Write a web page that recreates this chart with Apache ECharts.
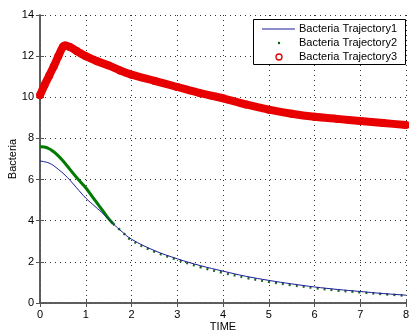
<!DOCTYPE html>
<html><head><meta charset="utf-8">
<script src="https://cdn.jsdelivr.net/npm/echarts@6/dist/echarts.min.js"></script>
<style>html,body{margin:0;padding:0;background:#fff}#c{width:409px;height:330px}</style>
</head><body><div id="c"></div>
<script>
const xTicks = [0,1,2,3,4,5,6,7,8];
const yTicks = [0,2,4,6,8,10,12,14];
const names = ['Bacteria Trajectory1','Bacteria Trajectory2','Bacteria Trajectory3'];
const tBlue = [0,0.2,0.4,0.6,0.8,1.0,1.2,1.4,1.6,1.8,2.0,2.5,3,3.5,4,4.5,5,5.5,6,6.5,7,7.5,8];
const vBlue = [6.9,6.8,6.5,6.1,5.6,5.1,4.7,4.3,3.85,3.45,3.1,2.55,2.15,1.82,1.55,1.3,1.1,0.93,0.78,0.66,0.56,0.46,0.38];
const tGreenA = [0,0.1,0.2,0.3,0.4,0.5,0.6,0.7,0.8,0.9,1.0,1.1,1.2,1.3,1.4,1.5,1.6];
const vGreenA = [7.6,7.58,7.5,7.35,7.15,6.92,6.65,6.37,6.1,5.85,5.6,5.3,5.0,4.7,4.4,4.1,3.85];
const tGreenB = [1.6,1.8,2.0,2.5,3,3.5,4,4.5,5,5.5,6,6.5,7,7.5,8];
const vGreenB = [3.85,3.45,3.05,2.5,2.1,1.75,1.47,1.23,1.03,0.87,0.73,0.61,0.52,0.43,0.36];
const tRed = [0,0.1,0.2,0.3,0.4,0.5,0.55,0.65,0.8,1.0,1.25,1.5,1.75,2.0,2.5,3.0,3.5,4.0,4.5,5.0,5.5,6.0,6.5,7.0,7.5,8.0];
const vRed = [10.1,10.6,11.05,11.5,12.0,12.45,12.52,12.45,12.25,12.0,11.75,11.55,11.3,11.1,10.8,10.5,10.2,9.95,9.65,9.4,9.2,9.05,8.95,8.85,8.75,8.65];

const zip = (a,b)=>a.map((x,i)=>[x,b[i]]);
const FONT = 'Liberation Sans';
const txt = {fontFamily: FONT, fontSize: 11, color: '#000'};
const axLine = {show:true, lineStyle:{color:'#555', width:1.5}};
const split = {show:true, lineStyle:{color:'#333', type:[1,4], width:1}};
const tick = {show:true, inside:true, length:4, lineStyle:{color:'#555'}};

const legendText = (i, y) => ({type:'text', left:299, top:y-6, z:60,
  style:{text:names[i], fill:'#000', font:'11px "Liberation Sans"'}});

const chart = echarts.init(document.getElementById('c'), null, {renderer:'canvas'});
chart.setOption({
  animation:false,
  backgroundColor:'#fff',
  textStyle:{fontFamily:FONT},
  grid:{left:40, right:3, top:15, bottom:27, containLabel:false, outerBoundsMode:'none'},
  xAxis:[
    {type:'value', min:0, max:8, interval:1, position:'bottom',
     name:'TIME', nameLocation:'middle', nameGap:18, nameMoveOverlap:false, nameTextStyle:txt,
     axisLine:axLine, axisTick:tick,
     axisLabel:Object.assign({margin:6}, txt, {formatter:v=>xTicks.includes(v)?String(v):''}), splitLine:split},
    {type:'value', min:0, max:8, interval:1, position:'top',
     axisLine:axLine, axisTick:tick, axisLabel:{show:false}, splitLine:{show:false}}
  ],
  yAxis:[
    {type:'value', min:0, max:14, interval:2, position:'left',
     name:'Bacteria', nameLocation:'middle', nameGap:22, nameMoveOverlap:false, nameRotate:90, nameTextStyle:txt,
     axisLine:axLine, axisTick:tick,
     axisLabel:Object.assign({margin:6}, txt, {formatter:v=>yTicks.includes(v)?String(v):''}), splitLine:split},
    {type:'value', min:0, max:14, interval:2, position:'right',
     axisLine:axLine, axisTick:tick, axisLabel:{show:false}, splitLine:{show:false}}
  ],
  graphic:[
    {type:'rect', left:253, top:19, z:50, shape:{width:152, height:45},
     style:{fill:'#fff', stroke:'#000', lineWidth:1}},
    {type:'line', z:60, shape:{x1:262, y1:29, x2:295, y2:29}, style:{stroke:'#1c1c9c', lineWidth:1.2}},
    {type:'circle', z:60, shape:{cx:279, cy:43, r:1.2}, style:{fill:'#006000'}},
    {type:'circle', z:60, shape:{cx:279, cy:57, r:3}, style:{fill:'#fff', stroke:'#e00000', lineWidth:1.3}},
    legendText(0, 29), legendText(1, 43), legendText(2, 57)
  ],
  series:[
    {name:names[2], type:'line', data:zip(tRed,vRed), smooth:0.3, clip:false,
     symbol:'circle', symbolSize:8, showAllSymbol:true,
     itemStyle:{color:'#e80000'},
     lineStyle:{color:'#e80000', width:8}},
    {name:names[1], type:'line', data:zip(tGreenA,vGreenA), smooth:0.4, symbol:'none',
     itemStyle:{color:'#008000'}, lineStyle:{color:'#007a00', width:3}},
    {name:names[1], type:'line', data:zip(tGreenB,vGreenB), smooth:0.4, symbol:'none',
     itemStyle:{color:'#008000'}, lineStyle:{color:'#1a6a1a', width:2.5, type:[2,5]}},
    {name:names[0], type:'line', data:zip(tBlue,vBlue), smooth:0.4, symbol:'none',
     itemStyle:{color:'#1c1c9c'}, lineStyle:{color:'#1c1c9c', width:1}}
  ]
});
</script></body></html>
